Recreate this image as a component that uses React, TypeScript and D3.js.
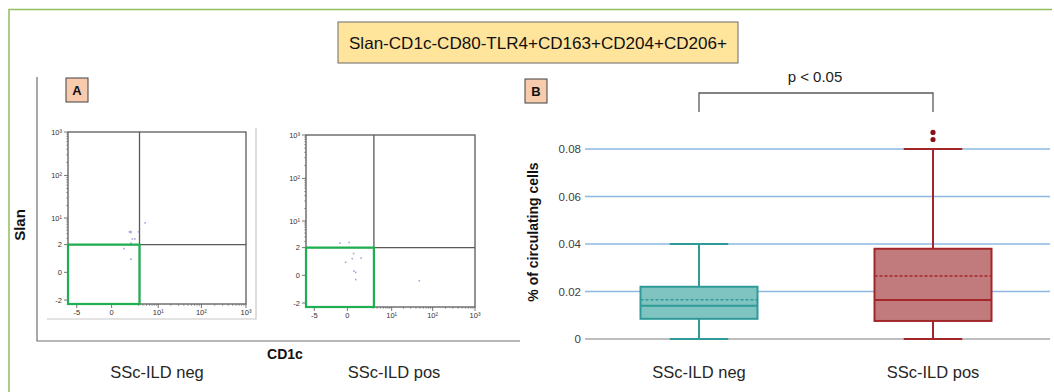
import { useRef, useEffect } from 'react';
import * as d3 from 'd3';

// Panel B: box plot summary values (% of circulating cells)
const groups = ['SSc-ILD neg', 'SSc-ILD pos'];
const whiskerLow = [0, 0];
const q1 = [0.0085, 0.0076];
const medians = [0.014, 0.0164];
const means = [0.0165, 0.0265];
const q3 = [0.022, 0.038];
const whiskerHigh = [0.04, 0.08];
const outliers = [[], [0.084, 0.087]];
const yTicks = [0, 0.02, 0.04, 0.06, 0.08];

// Panel A: flow cytometry dot plots (CD1c vs Slan)
const flowXTicks = [-5, 0, 10, 100, 1000];
const flowXLabels = ['-5', '0', '10¹', '10²', '10³'];
const flowYTicks = [-2, 0, 2, 10, 100, 1000];
const flowYLabels = ['-2', '0', '2', '10¹', '10²', '10³'];
const minorTicks = [3, 4, 5, 6, 7, 8, 9, 20, 30, 40, 50, 60, 70, 80, 90, 200, 300, 400, 500, 600, 700, 800, 900];
const gateX = 3.2;
const gateY = 2;
const negEvents = [
    { x: 1.5, y: 4.5 }, { x: 1.7, y: 4.6 }, { x: 1.7, y: 4.3 }, { x: 3.0, y: 4.5 },
    { x: 4.6, y: 7.6 }, { x: 1.9, y: 2.9 }, { x: 2.3, y: 2.9 }, { x: 1.7, y: 2.2 },
    { x: 0.9, y: 1.5 }, { x: 1.7, y: 0.6 }
];
const posEvents = [
    { x: -0.5, y: 2.7 }, { x: 0.1, y: 2.8 }, { x: 0.4, y: 1.3 }, { x: 0.3, y: 0.85 },
    { x: 1.1, y: 0.9 }, { x: -0.1, y: 0.6 }, { x: 0.42, y: 0.15 }, { x: 0.57, y: 0.1 },
    { x: 0.57, y: -0.15 }, { x: 48, y: -0.2 }
];

const FONT = 'Liberation Sans, Arial, sans-serif';

export default function App() {
    const ref = useRef<SVGSVGElement>(null);

    useEffect(() => {
        if (!ref.current) return;
        const svg = d3.select(ref.current);
        svg.selectAll('*').remove();

        // Outer frame (top + left)
        svg.append('path')
            .attr('d', 'M9,392 V9.5 H1052')
            .attr('fill', 'none')
            .attr('stroke', '#8fbf5c')
            .attr('stroke-width', 1.5);

        // Title box
        svg.append('rect')
            .attr('x', 338).attr('y', 22).attr('width', 400).attr('height', 41)
            .attr('fill', '#ffe49c').attr('stroke', '#6b6b6b').attr('stroke-width', 1);
        svg.append('text')
            .attr('x', 538).attr('y', 48.5)
            .attr('text-anchor', 'middle')
            .attr('font-family', 'Liberation Sans Narrow, Liberation Sans, sans-serif')
            .attr('font-size', 16.5)
            .attr('textLength', 378)
            .attr('lengthAdjust', 'spacingAndGlyphs')
            .attr('fill', '#111')
            .text('Slan-CD1c-CD80-TLR4+CD163+CD204+CD206+');

        // Panel letter boxes
        const letterBox = (x: number, y: number, label: string) => {
            svg.append('rect')
                .attr('x', x).attr('y', y).attr('width', 22).attr('height', 24)
                .attr('fill', '#f8cbad').attr('stroke', '#404040').attr('stroke-width', 1);
            svg.append('text')
                .attr('x', x + 11).attr('y', y + 17)
                .attr('text-anchor', 'middle')
                .attr('font-family', FONT).attr('font-weight', 'bold').attr('font-size', 13)
                .attr('fill', '#111')
                .text(label);
        };
        letterBox(66, 78, 'A');
        letterBox(525, 79, 'B');

        // ---------- Panel A ----------
        svg.append('path')
            .attr('d', 'M37,77 V341 H520')
            .attr('fill', 'none').attr('stroke', '#707070').attr('stroke-width', 1.2);

        svg.append('text')
            .attr('transform', 'translate(25,225) rotate(-90)')
            .attr('text-anchor', 'middle')
            .attr('font-family', FONT).attr('font-weight', 'bold').attr('font-size', 15)
            .attr('fill', '#111')
            .text('Slan');
        svg.append('text')
            .attr('x', 285).attr('y', 359)
            .attr('text-anchor', 'middle')
            .attr('font-family', FONT).attr('font-weight', 'bold').attr('font-size', 14)
            .attr('fill', '#111')
            .text('CD1c');

        const flowPlot = (x0: number, x1: number, y0: number, y1: number, events: { x: number; y: number }[], shadow: boolean) => {
            const xs = d3.scaleSymlog().constant(1).domain([-8.4, 1000]).range([x0, x1]);
            const ys = d3.scaleSymlog().constant(0.6).domain([-2.6, 1000]).range([y1, y0]);
            const g = svg.append('g');

            if (shadow) {
                g.append('path')
                    .attr('d', `M47,${y1 + 15} H${x1 + 10} V${y0 - 4}`)
                    .attr('fill', 'none').attr('stroke', '#c8c8c8').attr('stroke-width', 1.2);
            }

            // minor ticks
            g.selectAll('.ymin').data(minorTicks).enter().append('line')
                .attr('x1', x0 - 2).attr('x2', x0)
                .attr('y1', d => ys(d)).attr('y2', d => ys(d))
                .attr('stroke', '#777').attr('stroke-width', 0.6);
            g.selectAll('.xmin').data(minorTicks).enter().append('line')
                .attr('y1', y1).attr('y2', y1 + 2)
                .attr('x1', d => xs(d)).attr('x2', d => xs(d))
                .attr('stroke', '#777').attr('stroke-width', 0.6);

            // major ticks + labels
            g.selectAll('.ymaj').data(flowYTicks).enter().append('line')
                .attr('x1', x0 - 4).attr('x2', x0)
                .attr('y1', d => ys(d)).attr('y2', d => ys(d))
                .attr('stroke', '#555').attr('stroke-width', 0.8);
            g.selectAll('.ylab').data(flowYTicks).enter().append('text')
                .attr('x', x0 - 6).attr('y', d => ys(d) + 2.5)
                .attr('text-anchor', 'end')
                .attr('font-family', FONT).attr('font-size', 7.5).attr('fill', '#333')
                .text((_, i) => flowYLabels[i]);
            g.selectAll('.xmaj').data(flowXTicks).enter().append('line')
                .attr('y1', y1).attr('y2', y1 + 4)
                .attr('x1', d => xs(d)).attr('x2', d => xs(d))
                .attr('stroke', '#555').attr('stroke-width', 0.8);
            g.selectAll('.xlab').data(flowXTicks).enter().append('text')
                .attr('x', d => xs(d)).attr('y', y1 + 11)
                .attr('text-anchor', 'middle')
                .attr('font-family', FONT).attr('font-size', 7.5).attr('fill', '#333')
                .text((_, i) => flowXLabels[i]);

            // frame and quadrant dividers
            g.append('rect')
                .attr('x', x0).attr('y', y0).attr('width', x1 - x0).attr('height', y1 - y0)
                .attr('fill', 'none').attr('stroke', '#5a5a5a').attr('stroke-width', 1.3);
            g.append('line')
                .attr('x1', xs(gateX)).attr('x2', xs(gateX)).attr('y1', y0).attr('y2', y1)
                .attr('stroke', '#5a5a5a').attr('stroke-width', 1.3);
            g.append('line')
                .attr('x1', x0).attr('x2', x1).attr('y1', ys(gateY)).attr('y2', ys(gateY))
                .attr('stroke', '#5a5a5a').attr('stroke-width', 1.3);

            // events
            g.selectAll('.ev').data(events).enter().append('rect')
                .attr('x', d => xs(d.x) - 0.8).attr('y', d => ys(d.y) - 0.8)
                .attr('width', 1.6).attr('height', 1.6)
                .attr('fill', '#8f8fd8').attr('opacity', 0.8);

            // green gate
            g.append('rect')
                .attr('x', x0).attr('y', ys(gateY))
                .attr('width', xs(gateX) - x0).attr('height', y1 - ys(gateY))
                .attr('fill', 'none').attr('stroke', '#1fae50').attr('stroke-width', 2.2);
        };
        flowPlot(68, 246, 132, 304, negEvents, true);
        flowPlot(306, 475, 135, 307, posEvents, false);

        const groupLabel = (x: number, t: string) => {
            svg.append('text')
                .attr('x', x).attr('y', 378)
                .attr('text-anchor', 'middle')
                .attr('font-family', FONT).attr('font-size', 16.5).attr('fill', '#262626')
                .text(t);
        };
        groupLabel(157, groups[0]);
        groupLabel(394, groups[1]);

        // ---------- Panel B ----------
        const y = d3.scaleLinear().domain([0, 0.08]).range([339, 149]);
        const x = d3.scaleBand<string>().domain(groups).range([582, 1050])
            .paddingInner(0.5).paddingOuter(0.25);
        const gridL = 585, gridR = 1050;

        svg.selectAll('.grid').data(yTicks.filter(d => d > 0)).enter().append('line')
            .attr('x1', gridL).attr('x2', gridR)
            .attr('y1', d => y(d)).attr('y2', d => y(d))
            .attr('stroke', '#8db8e3').attr('stroke-width', 1.3);
        svg.append('line')
            .attr('x1', gridL).attr('x2', gridR).attr('y1', y(0)).attr('y2', y(0))
            .attr('stroke', '#bdbdbd').attr('stroke-width', 2);

        svg.selectAll('.ytl').data(yTicks).enter().append('text')
            .attr('x', 581).attr('y', d => y(d) + 4)
            .attr('text-anchor', 'end')
            .attr('font-family', FONT).attr('font-size', 11.5).attr('fill', '#404040')
            .text(d => (d === 0 ? '0' : d.toFixed(2)));

        svg.append('text')
            .attr('transform', 'translate(538,232) rotate(-90)')
            .attr('text-anchor', 'middle')
            .attr('font-family', FONT).attr('font-weight', 'bold').attr('font-size', 14)
            .attr('fill', '#111')
            .text('% of circulating cells');

        const strokes = ['#2f9a98', '#a3262b'];
        const fills = ['#80c4c1', '#c27b7c'];
        const bw = x.bandwidth();

        groups.forEach((grp, i) => {
            const cx = (x(grp) || 0) + bw / 2;
            const g = svg.append('g');
            // whiskers
            g.append('line')
                .attr('x1', cx).attr('x2', cx).attr('y1', y(whiskerLow[i])).attr('y2', y(whiskerHigh[i]))
                .attr('stroke', strokes[i]).attr('stroke-width', 2);
            [whiskerLow[i], whiskerHigh[i]].forEach(v => {
                g.append('line')
                    .attr('x1', cx - bw / 4).attr('x2', cx + bw / 4).attr('y1', y(v)).attr('y2', y(v))
                    .attr('stroke', strokes[i]).attr('stroke-width', 2.2);
            });
            // box
            g.append('rect')
                .attr('x', cx - bw / 2).attr('y', y(q3[i]))
                .attr('width', bw).attr('height', y(q1[i]) - y(q3[i]))
                .attr('fill', fills[i]).attr('stroke', strokes[i]).attr('stroke-width', 2);
            g.append('line')
                .attr('x1', cx - bw / 2).attr('x2', cx + bw / 2).attr('y1', y(medians[i])).attr('y2', y(medians[i]))
                .attr('stroke', strokes[i]).attr('stroke-width', 2);
            g.append('line')
                .attr('x1', cx - bw / 2).attr('x2', cx + bw / 2).attr('y1', y(means[i])).attr('y2', y(means[i]))
                .attr('stroke', strokes[i]).attr('stroke-width', 1.6).attr('stroke-dasharray', '3,2');
            g.selectAll('circle').data(outliers[i]).enter().append('circle')
                .attr('cx', cx).attr('cy', d => y(d)).attr('r', 2.6)
                .attr('fill', '#8b1016');
            groupLabel(cx, grp);
        });

        // significance bracket
        const c0 = (x(groups[0]) || 0) + bw / 2;
        const c1 = (x(groups[1]) || 0) + bw / 2;
        svg.append('path')
            .attr('d', `M${c0},112 V93 H${c1} V112`)
            .attr('fill', 'none').attr('stroke', '#595959').attr('stroke-width', 1.3);
        svg.append('text')
            .attr('x', 815).attr('y', 82)
            .attr('text-anchor', 'middle')
            .attr('font-family', FONT).attr('font-size', 15).attr('fill', '#222')
            .text('p < 0.05');
    }, []);

    return (
        <svg
            ref={ref}
            width={1054}
            height={392}
            style={{ position: 'absolute', left: 0, top: 0, background: 'white', display: 'block' }}
        />
    );
}
